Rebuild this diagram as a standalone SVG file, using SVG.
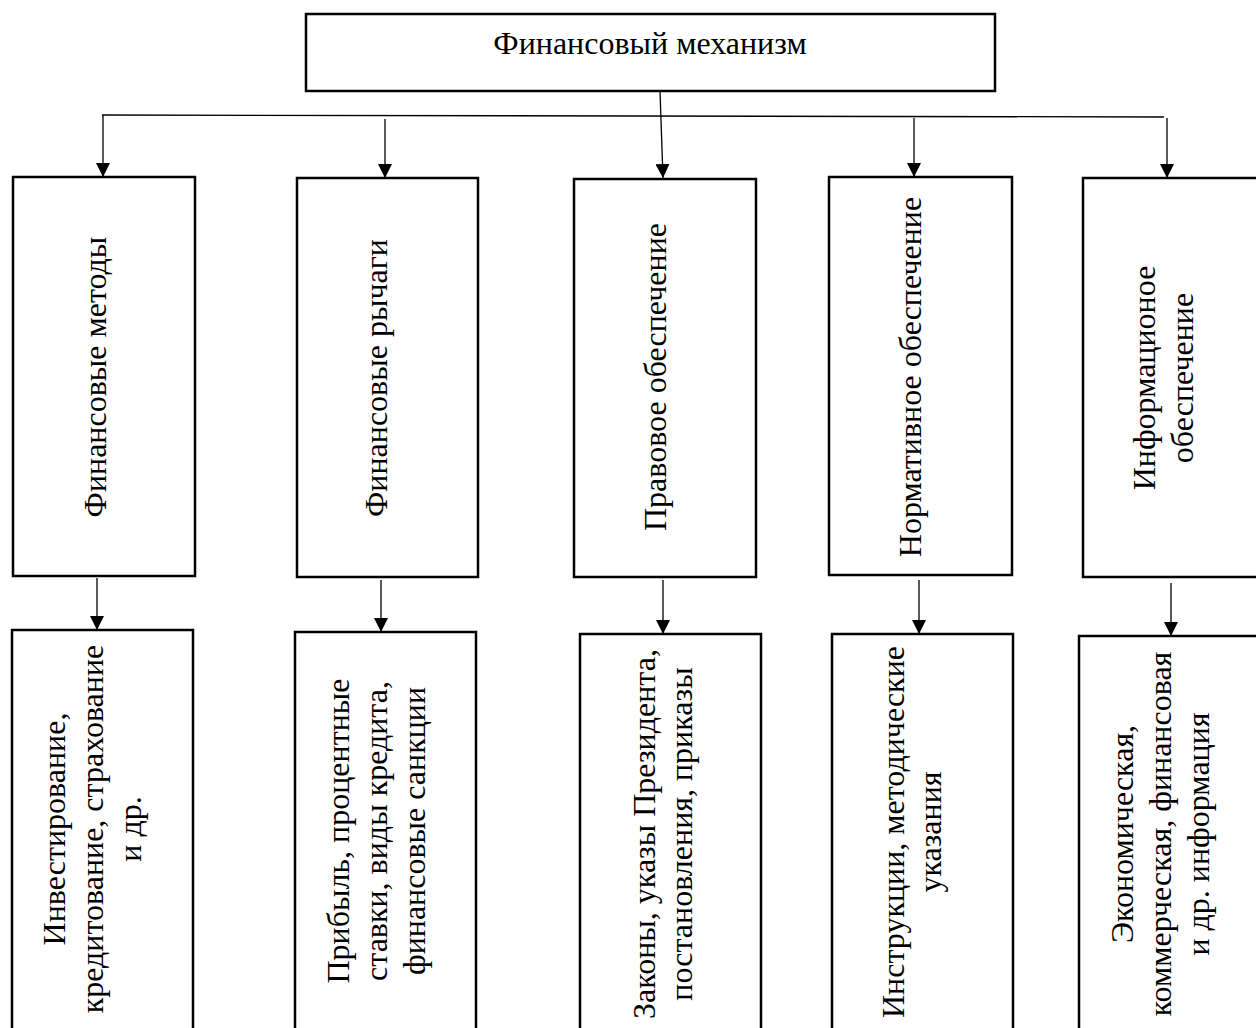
<svg xmlns="http://www.w3.org/2000/svg" width="1256" height="1028" viewBox="0 0 1256 1028">
<style>
.box{fill:#fff;stroke:#000;stroke-width:2.5}
.t{font-family:"Liberation Serif","Times New Roman",serif;font-size:32px;fill:#000;text-anchor:middle}
.c{stroke:#000;stroke-width:1.3;fill:none}
.ca{stroke:#000;stroke-width:1.3;fill:none;marker-end:url(#ah)}
</style>
<defs>
<marker id="ah" markerUnits="userSpaceOnUse" markerWidth="14" markerHeight="14" refX="14" refY="7" orient="auto">
<path d="M0,0 L14,7 L0,14 z" fill="#000"/>
</marker>
</defs>
<rect width="1256" height="1028" fill="#fff"/>
<g id="connectors">
<line class="c" x1="102" y1="115" x2="1164" y2="117"/>
<line class="ca" x1="660" y1="91" x2="663" y2="178"/>
<line class="ca" x1="103" y1="115" x2="103" y2="177"/>
<line class="ca" x1="385" y1="119" x2="385" y2="178"/>
<line class="ca" x1="914" y1="118" x2="914" y2="177"/>
<line class="ca" x1="1167" y1="118" x2="1167" y2="178"/>
<line class="ca" x1="97" y1="578" x2="97" y2="630"/>
<line class="ca" x1="381" y1="580" x2="381" y2="632"/>
<line class="ca" x1="663" y1="580" x2="663" y2="634"/>
<line class="ca" x1="919" y1="580" x2="919" y2="634"/>
<line class="ca" x1="1171" y1="583" x2="1171" y2="636"/>
</g>
<g id="root">
<rect class="box" x="306" y="14" width="689" height="77"/>
<text class="t" x="650" y="54">Финансовый механизм</text>
</g>
<g id="methods">
<rect class="box" x="13" y="177" width="182" height="399"/>
<text class="t" transform="translate(106,377) rotate(-90)">Финансовые методы</text>
</g>
<g id="levers">
<rect class="box" x="297" y="178" width="181" height="399"/>
<text class="t" transform="translate(387,378) rotate(-90)">Финансовые рычаги</text>
</g>
<g id="legal">
<rect class="box" x="574" y="179" width="182" height="398"/>
<text class="t" transform="translate(666,377) rotate(-90)">Правовое обеспечение</text>
</g>
<g id="normative">
<rect class="box" x="829" y="177" width="183" height="398"/>
<text class="t" transform="translate(921,377) rotate(-90)">Нормативное обеспечение</text>
</g>
<g id="info">
<rect class="box" x="1083" y="178" width="181" height="399"/>
<text class="t" transform="translate(1155,378) rotate(-90)"><tspan x="0" y="0">Информационое</tspan><tspan x="0" y="38">обеспечение</tspan></text>
</g>
<g id="methods-ex">
<rect class="box" x="12" y="630" width="181" height="410"/>
<text class="t" transform="translate(65,829) rotate(-90)"><tspan x="0" y="0">Инвестирование,</tspan><tspan x="0" y="38">кредитование, страхование</tspan><tspan x="0" y="76">и др.</tspan></text>
</g>
<g id="levers-ex">
<rect class="box" x="295" y="632" width="181" height="410"/>
<text class="t" transform="translate(349,831) rotate(-90)"><tspan x="0" y="0">Прибыль, процентные</tspan><tspan x="0" y="38">ставки, виды кредита,</tspan><tspan x="0" y="76">финансовые санкции</tspan></text>
</g>
<g id="legal-ex">
<rect class="box" x="580" y="634" width="181" height="410"/>
<text class="t" transform="translate(655,834) rotate(-90)"><tspan x="0" y="0">Законы, указы Президента,</tspan><tspan x="0" y="37">постановления, приказы</tspan></text>
</g>
<g id="normative-ex">
<rect class="box" x="832" y="634" width="181" height="410"/>
<text class="t" transform="translate(904,832) rotate(-90)"><tspan x="0" y="0">Инструкции, методические</tspan><tspan x="0" y="37">указания</tspan></text>
</g>
<g id="info-ex">
<rect class="box" x="1079" y="636" width="181" height="410"/>
<text class="t" transform="translate(1133,834) rotate(-90)"><tspan x="0" y="0">Экономическая,</tspan><tspan x="0" y="38">коммерческая, финансовая</tspan><tspan x="0" y="76">и др. информация</tspan></text>
</g>
</svg>
